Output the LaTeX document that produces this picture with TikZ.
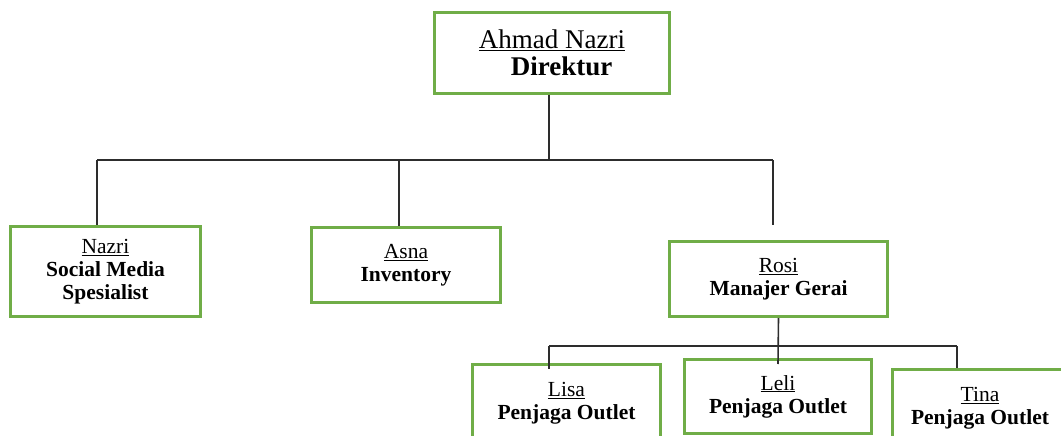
\documentclass[tikz,border=0pt]{standalone}
\usepackage{fontspec}
\setmainfont{Liberation Serif}
\usetikzlibrary{positioning, calc}
\definecolor{orggreen}{RGB}{112,173,71}
\definecolor{orgline}{RGB}{45,45,45}
\tikzset{
    orgbox/.style={rectangle, draw=orggreen, line width=3pt, align=center, inner sep=0pt, font=\fontsize{21.5}{23}\selectfont},
    topbox/.style={rectangle, draw=orggreen, line width=3pt, align=center, inner sep=0pt, font=\fontsize{27}{27}\selectfont},
    conn/.style={draw=orgline, line width=1.6pt}
}

\begin{document}
\begin{tikzpicture}[x=1pt, y=-1pt]
    \useasboundingbox (0,0) rectangle (1061,436);
    % pimpinan
    \node[topbox, minimum width=235pt, minimum height=81pt] (dir) at (552,53) {\underline{Ahmad Nazri}\\\hspace*{19pt}\textbf{Direktur}};
    % staf
    \node[orgbox, minimum width=190pt, minimum height=90pt] (nazri) at (105.5,271.5) {\underline{Nazri}\\\textbf{Social Media}\\\textbf{Spesialist}};
    \node[orgbox, minimum width=189pt, minimum height=75pt] (asna) at (406,265) {\underline{Asna}\\\textbf{Inventory}};
    \node[orgbox, minimum width=218pt, minimum height=75pt] (rosi) at (778.5,279) {\underline{Rosi}\\\textbf{Manajer Gerai}};
    % outlet
    \node[orgbox, minimum width=188pt, minimum height=78pt] (lisa) at (566.5,403.5) {\underline{Lisa}\\\textbf{Penjaga Outlet}};
    \node[orgbox, minimum width=187pt, minimum height=74pt] (leli) at (778,396.5) {\underline{Leli}\\\textbf{Penjaga Outlet}};
    \node[orgbox, minimum width=175pt, minimum height=78pt] (tina) at (980,408.5) {\underline{Tina}\\\textbf{Penjaga Outlet}};

    % garis atas
    \coordinate (busL) at (97,160);
    \coordinate (busR) at (773,160);
    \coordinate (dirOut) at ([xshift=-3pt]dir.south);
    \coordinate (asnaIn) at ([xshift=-7pt]asna.north);
    \coordinate (rosiIn) at (773,225);
    \draw[conn] (dirOut) -- (dirOut |- busL);
    \draw[conn] (busL) -- (busR);
    \draw[conn] (busL) -- (busL |- nazri.north);
    \draw[conn] (asnaIn |- busL) -- (asnaIn);
    \draw[conn] (busR) -- (rosiIn);

    % garis bawah
    \coordinate (bus2L) at (549,346);
    \coordinate (bus2R) at (957,346);
    \coordinate (lisaIn) at (549,369);
    \draw[conn] (rosi.south) -- ([yshift=-6pt]leli.north);
    \draw[conn] (bus2L) -- (bus2R);
    \draw[conn] (bus2L) -- (lisaIn);
    \draw[conn] (bus2R) -- (bus2R |- tina.north);
\end{tikzpicture}
\end{document}
